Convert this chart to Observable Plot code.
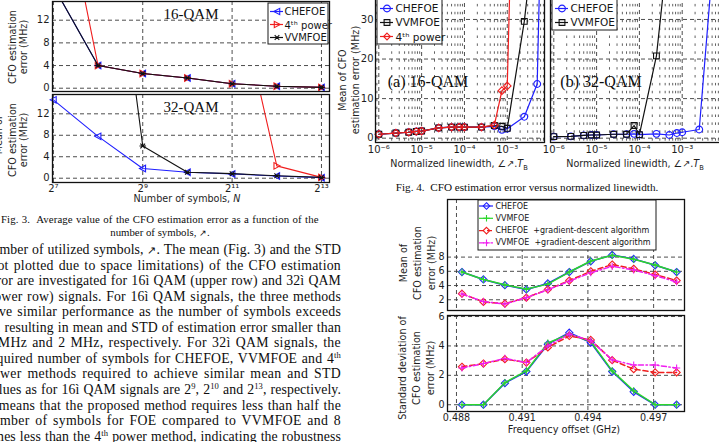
<!DOCTYPE html>
<html>
<head>
<meta charset="utf-8">
<script src="https://cdn.jsdelivr.net/npm/d3@7"></script>
<script src="https://cdn.jsdelivr.net/npm/@observablehq/plot@0.6"></script>
<style>
  html, body { margin: 0; padding: 0; background: #fff; }
  #page { position: relative; width: 719px; height: 442px; overflow: hidden; background: #fff; }
  #page > * { position: absolute; }
  .serif { font-family: "Liberation Serif", "Times New Roman", serif; color: #0e0e0e; white-space: nowrap; width: max-content; }
  .sans { font-family: "DejaVu Sans", "Liberation Sans", sans-serif; color: #1e1e1e; white-space: nowrap; font-size: 9.6px; width: max-content; }
  .ctr { transform: translate(-50%, -50%); }
  .rot { transform: translate(-50%, -50%) rotate(-90deg); text-align: center; line-height: 13px; }
  sup { font-size: 0.62em; vertical-align: 0; position: relative; top: -0.55em; line-height: 0; }
  sub { font-size: 0.7em; vertical-align: 0; position: relative; top: 0.4em; line-height: 0; }
</style>
</head>
<body>
<div id="page"></div>
<script>
// ---------------- Fig. 3: mean CFO error vs number of symbols (x = log2 N) ----------------
const log2N = [7, 8, 9, 10, 11, 12, 13];
const fig3Ticks = [7, 9, 11, 13];
const fig3YTicks = [0, 4, 8, 12];
const qam16Chefoe = [18, 4.0, 2.6, 1.8, 0.8, 0.35, 0.15];
const qam16Fourth = [43, 4.0, 2.6, 1.8, 0.8, 0.35, 0.15];
const qam16Vvmfoe = [18, 4.0, 2.6, 1.8, 0.8, 0.35, 0.15];
const qam32Chefoe = [14.6, 7.8, 1.8, 1.1, 0.8, 0.4, 0.1];
const qam32Fourth = [null, null, null, null, 39, 2.3, 0.15];
const qam32Vvmfoe = [null, 70, 6.0, 1.1, 0.85, 0.45, 0.15];

// ---------------- Fig. 4: CFO error vs normalized linewidth ----------------
const linewidth = [1e-6, 2.5e-6, 5e-6, 7.5e-6, 1e-5, 2.5e-5, 5e-5, 7.5e-5, 1e-4, 2.5e-4, 5e-4, 7.5e-4, 1e-3, 2.5e-3, 5e-3, 7.5e-3];
const lwTicks = [1e-6, 1e-5, 1e-4, 1e-3];
const lwYTicks = [0, 10, 20, 30];
const lw16Chefoe = [1.0, 1.3, 1.5, 1.7, 1.8, 2.6, 2.8, 2.8, 2.8, 2.8, 3.0, 2.1, 2.4, 5.4, 13.7, 95];
const lw16Vvmfoe = [1.0, 1.3, 1.5, 1.7, 1.8, 2.6, 2.8, 2.8, 2.8, 2.8, 3.2, 3.0, 2.5, 29.5, 58, null];
const lw16Fourth = [1.0, 1.3, 1.5, 1.7, 1.8, 2.6, 2.8, 2.8, 2.8, 2.8, 3.3, 12.0, 13.2, 180, null, null];
const lw32Chefoe = [0.4, 0.45, 0.7, 0.8, 0.8, 1.0, 1.0, 1.1, 0.9, 1.1, 0.8, 1.3, 1.5, 2.2, 42, null];
const lw32Vvmfoe = [0.4, 0.45, 0.7, 0.8, 0.8, 1.0, 1.0, 3.2, 0.9, 20.8, 51, null, null, null, null, null];

// ---------------- Fig. 5: mean / STD of CFO error vs frequency offset ----------------
const freqOffset = [0.48825, 0.48923, 0.49021, 0.49119, 0.49217, 0.49315, 0.49413, 0.49511, 0.49609, 0.49707, 0.49805];
const freqTicks = [0.488, 0.491, 0.494, 0.497];
const meanTicks = [2, 4, 6, 8];
const stdTicks = [0, 2, 4, 6];
const meanChefoe = [5.9, 4.85, 4.05, 3.45, 4.3, 5.9, 7.4, 8.3, 7.75, 6.85, 5.9];
const meanVvmfoe = [5.9, 4.85, 4.1, 3.5, 4.2, 5.9, 7.45, 8.25, 7.7, 6.9, 5.9];
const meanChefoeGd = [2.85, 1.7, 1.45, 2.3, 3.45, 4.7, 6.0, 6.95, 6.35, 5.55, 4.7];
const meanVvmfoeGd = [2.8, 1.75, 1.4, 2.3, 3.4, 4.6, 5.8, 6.7, 6.2, 5.4, 4.5];
const stdChefoe = [0, 0, 1.47, 2.26, 4.12, 4.9, 4.23, 2.26, 0.88, 0, 0];
const stdVvmfoe = [0, 0, 1.5, 2.3, 4.2, 4.8, 4.3, 2.3, 0.95, 0, 0];
const stdChefoeGd = [2.58, 2.8, 3.1, 2.87, 3.9, 4.68, 4.41, 3.03, 2.42, 2.2, 2.2];
const stdVvmfoeGd = [2.5, 2.8, 3.15, 2.87, 4.0, 4.8, 4.35, 3.05, 2.7, 2.7, 2.5];

// ---------------- styling ----------------
const BLUE = "#1f1fff", RED = "#f01e1e", BLACK = "#111", GREEN = "#2bd62b", MAGENTA = "#f01ef0";
const GRID = "#3a3a3a";
const SANS = '"DejaVu Sans", "Liberation Sans", sans-serif';
const baseStyle = { background: "transparent", overflow: "visible", fontFamily: SANS, fontSize: "9.6px", color: "#1e1e1e" };

const page = document.getElementById("page");
const supMap = { "-": "⁻", "0": "⁰", "1": "¹", "2": "²", "3": "³", "4": "⁴", "5": "⁵", "6": "⁶", "7": "⁷", "8": "⁸", "9": "⁹" };
const sup = v => String(v).replace(/[-0-9]/g, c => supMap[c]);

// open marker shapes in the style of the original plotting tool
const rad = size => Math.sqrt(size / Math.PI);
const triLeft = { draw(c, s) { const r = rad(s); c.moveTo(-r, 0); c.lineTo(r * 0.85, -r); c.lineTo(r * 0.85, r); c.closePath(); } };
const triRight = { draw(c, s) { const r = rad(s); c.moveTo(r, 0); c.lineTo(-r * 0.85, -r); c.lineTo(-r * 0.85, r); c.closePath(); } };
const diamond = { draw(c, s) { const r = rad(s); c.moveTo(0, -r); c.lineTo(r, 0); c.lineTo(0, r); c.lineTo(-r, 0); c.closePath(); } };
const square = { draw(c, s) { const r = rad(s) * 0.85; c.rect(-r, -r, 2 * r, 2 * r); } };
const circle = { draw(c, s) { const r = rad(s); c.moveTo(r, 0); c.arc(0, 0, r, 0, 2 * Math.PI); } };
const plus = { draw(c, s) { const r = rad(s); c.moveTo(-r, 0); c.lineTo(r, 0); c.moveTo(0, -r); c.lineTo(0, r); } };
const star = { draw(c, s) { const r = rad(s), q = r * 0.72; c.moveTo(-r, 0); c.lineTo(r, 0); c.moveTo(-q, -q); c.lineTo(q, q); c.moveTo(-q, q); c.lineTo(q, -q); } };

const pairs = (xs, ys) => xs.map((x, i) => ({ x, y: ys[i] })).filter(d => d.y != null);

function put(html, cls, x, y, css = {}) {
  const el = document.createElement("div");
  el.className = cls;
  el.innerHTML = html;
  el.style.left = x + "px";
  el.style.top = y + "px";
  Object.assign(el.style, css);
  page.appendChild(el);
  return el;
}

// one axes box; box = frame edges in page pixels
function panel(box, x, y, marks) {
  const ml = 40, mr = 3, mt = 3, mb = 24;
  const svg = Plot.plot({
    width: box.r - box.l + ml + mr, height: box.b - box.t + mt + mb,
    marginLeft: ml, marginRight: mr, marginTop: mt, marginBottom: mb,
    x, y, style: baseStyle, marks: marks.filter(Boolean)
  });
  svg.style.left = (box.l - ml) + "px";
  svg.style.top = (box.t - mt) + "px";
  page.appendChild(svg);
}

function seriesMarks(list, ydom, { width = 1.1, r = 3.3 } = {}) {
  return list.flatMap(s => {
    const inside = s.data.filter(d => d.y >= ydom[0] && d.y <= ydom[1]);
    return [
      Plot.line(s.data, { x: "x", y: "y", stroke: s.color, strokeWidth: width, strokeDasharray: s.dash, clip: true }),
      Plot.dot(inside, { x: "x", y: "y", symbol: s.symbol, stroke: s.color, fill: "none", r: s.r || r, strokeWidth: 1.1 })
    ];
  });
}

// boxed legend drawn as its own small plot in pixel units
function legend(entries, o) {
  const marks = [Plot.frame({ fill: "white", stroke: "#1a1a1a", strokeWidth: 1, inset: 0.5 })];
  entries.forEach((e, i) => {
    const yy = o.row0 + i * o.rowH;
    marks.push(Plot.ruleY([yy], { x1: o.s1, x2: o.s2, stroke: e.color, strokeWidth: 1.2, strokeDasharray: e.dash }));
    marks.push(Plot.dot([[(o.s1 + o.s2) / 2, yy]], { symbol: e.symbol, stroke: e.color, fill: "none", r: o.r, strokeWidth: 1.1 }));
    marks.push(Plot.text([e.label], { x: o.tx, y: yy + (e.dy || 0), text: d => d, textAnchor: "start", fontSize: o.fontSize, fill: "#151515" }));
  });
  const svg = Plot.plot({
    width: o.w, height: o.h, margin: 0,
    x: { type: "identity", axis: null }, y: { type: "identity", axis: null },
    style: baseStyle, marks
  });
  svg.style.left = o.l + "px";
  svg.style.top = o.t + "px";
  page.appendChild(svg);
}

const dashedGrid = { stroke: GRID, strokeWidth: 0.9, strokeDasharray: "4,3" };

// ================= Fig. 3 =================
const f3x = { domain: [6.98, 13.18] };
const f3top = { l: 52, r: 329, t: 1, b: 91 }, f3topY = [-0.58, 15.3];
const f3bot = { l: 52, r: 329, t: 94, b: 182 }, f3botY = [-0.8, 15.6];

panel(f3top, { ...f3x, axis: null }, { domain: f3topY }, [
  Plot.ruleX(fig3Ticks, dashedGrid),
  Plot.ruleY(fig3YTicks, dashedGrid),
  ...seriesMarks([
    { data: pairs(log2N, qam16Chefoe), color: BLUE, symbol: triLeft },
    { data: pairs(log2N, qam16Fourth), color: RED, symbol: triRight },
    { data: pairs(log2N, qam16Vvmfoe), color: BLACK, symbol: star }
  ], f3topY),
  Plot.axisY(fig3YTicks, { tickSize: 0, tickPadding: 3, label: null, fontSize: 10 }),
  Plot.frame({ stroke: "#111", strokeWidth: 1.3 })
]);

panel(f3bot, f3x, { domain: f3botY }, [
  Plot.ruleX(fig3Ticks, dashedGrid),
  Plot.ruleY(fig3YTicks, dashedGrid),
  ...seriesMarks([
    { data: pairs(log2N, qam32Chefoe), color: BLUE, symbol: triLeft },
    { data: pairs(log2N, qam32Fourth), color: RED, symbol: triRight },
    { data: pairs(log2N, qam32Vvmfoe), color: BLACK, symbol: star }
  ], f3botY),
  Plot.axisY(fig3YTicks, { tickSize: 0, tickPadding: 3, label: null, fontSize: 10 }),
  Plot.axisX(fig3Ticks, { tickSize: 0, tickPadding: 2, label: null, fontSize: 10, tickFormat: d => "2" + sup(d) }),
  Plot.frame({ stroke: "#111", strokeWidth: 1.3 })
]);

legend([
  { label: "CHEFOE", color: BLUE, symbol: triLeft },
  { label: "4ᵗʰ power", color: RED, symbol: triRight, dy: 1 },
  { label: "VVMFOE", color: BLACK, symbol: star }
], { l: 267, t: 2, w: 61, h: 42, row0: 9, rowH: 13, s1: 3, s2: 16, tx: 17, r: 3.2, fontSize: 10 });

put("16-QAM", "serif ctr", 191, 14, { fontSize: "15px" });
put("32-QAM", "serif ctr", 191, 107, { fontSize: "15px" });
put("CFO estimation<br>error (MHz)", "sans rot", 17.5, 47, { fontSize: "9.6px", lineHeight: "11px" });
put("CFO estimation<br>error (MHz)", "sans rot", 17.5, 140, { fontSize: "9.6px", lineHeight: "11px" });
put("Mean of", "sans rot", -2, 135, { fontSize: "9.6px", lineHeight: "11px" });
put("Number of symbols, <i>N</i>", "sans ctr", 187, 198, { fontSize: "9.6px" });

// ================= Fig. 4 =================
const lwY = [-1.09, 35.8];
const lwA = { l: 375, r: 544, t: -4, b: 142 };
const lwB = { l: 550, r: 720, t: -4, b: 142 };
const decades = [1e-7, 1e-6, 1e-5, 1e-4, 1e-3];
const minor = decades.flatMap(d => [2, 3, 4, 5, 6, 7, 8, 9].map(k => k * d));

function lwPanel(box, xdom, list, showY) {
  panel(box, { type: "log", domain: xdom }, { domain: lwY, axis: showY ? undefined : null }, [
    Plot.ruleX(minor.filter(v => v > xdom[0] && v < xdom[1]), { stroke: GRID, strokeWidth: 0.8, strokeDasharray: "2.5,5.4" }),
    Plot.ruleX(lwTicks, dashedGrid),
    Plot.ruleY(lwYTicks, dashedGrid),
    ...seriesMarks(list, lwY, { width: 1.2, r: 3.4 }),
    showY ? Plot.axisY(lwYTicks, { tickSize: 0, tickPadding: 2, label: null, fontSize: 10 }) : null,
    Plot.axisX(lwTicks, { tickSize: 0, tickPadding: 3, label: null, fontSize: 10, tickFormat: d => "10" + sup(Math.round(Math.log10(d))) }),
    Plot.frame({ stroke: "#111", strokeWidth: 1.3 })
  ]);
}

lwPanel(lwA, [8.37e-7, 7.41e-3], [
  { data: pairs(linewidth, lw16Chefoe), color: BLUE, symbol: circle },
  { data: pairs(linewidth, lw16Vvmfoe), color: BLACK, symbol: square },
  { data: pairs(linewidth, lw16Fourth), color: RED, symbol: diamond, r: 3.8 }
], true);

lwPanel(lwB, [8.37e-7, 7.85e-3], [
  { data: pairs(linewidth, lw32Chefoe), color: BLUE, symbol: circle },
  { data: pairs(linewidth, lw32Vvmfoe), color: BLACK, symbol: square }
], false);

legend([
  { label: "CHEFOE", color: BLUE, symbol: circle },
  { label: "VVMFOE", color: BLACK, symbol: square },
  { label: "4ᵗʰ power", color: RED, symbol: diamond, dy: 1 }
], { l: 376, t: -2, w: 66, h: 46, row0: 10, rowH: 14, s1: 4, s2: 17, tx: 19, r: 3.4, fontSize: 10.5 });

legend([
  { label: "CHEFOE", color: BLUE, symbol: circle },
  { label: "VVMFOE", color: BLACK, symbol: square }
], { l: 551, t: -2, w: 66, h: 32, row0: 10, rowH: 14, s1: 4, s2: 17, tx: 19, r: 3.4, fontSize: 10.5 });

put("(a) 16-QAM", "serif ctr", 428, 82, { fontSize: "16px" });
put("(b) 32-QAM", "serif ctr", 601, 82, { fontSize: "16px" });
put("Normalized linewidth, ∠↗.<i>T</i><sub>B</sub>", "sans ctr", 459, 163, { fontSize: "9.6px" });
put("Normalized linewidth, ∠↗.<i>T</i><sub>B</sub>", "sans ctr", 635, 163, { fontSize: "9.6px" });
put("Mean of CFO<br>estimation error (MHz)", "sans rot", 349, 80, { fontSize: "9.6px", lineHeight: "13px" });

// ================= Fig. 5 =================
const fxDom = [0.48759, 0.49841];
const f5top = { l: 447, r: 684, t: 199, b: 310 }, meanY = [0.49, 16.1];
const f5bot = { l: 447, r: 684, t: 315, b: 411 }, stdY = [-0.46, 6.07];
const f5series = (c, v, cg, vg) => [
  { data: pairs(freqOffset, c), color: BLUE, symbol: diamond, r: 3.6 },
  { data: pairs(freqOffset, v), color: GREEN, symbol: plus, r: 3.6 },
  { data: pairs(freqOffset, cg), color: RED, symbol: diamond, r: 3.6, dash: "5,3" },
  { data: pairs(freqOffset, vg), color: MAGENTA, symbol: plus, r: 3.6, dash: "5,2.5,1.5,2.5" }
];

panel(f5top, { domain: fxDom, axis: null }, { domain: meanY }, [
  Plot.ruleX(freqTicks, dashedGrid),
  Plot.ruleY(meanTicks, dashedGrid),
  ...seriesMarks(f5series(meanChefoe, meanVvmfoe, meanChefoeGd, meanVvmfoeGd), meanY, { width: 1.5 }),
  Plot.axisY(meanTicks, { tickSize: 0, tickPadding: 3, label: null, fontSize: 9.6 }),
  Plot.frame({ stroke: "#111", strokeWidth: 1.3 })
]);

panel(f5bot, { domain: fxDom }, { domain: stdY }, [
  Plot.ruleX(freqTicks, dashedGrid),
  Plot.ruleY(stdTicks, dashedGrid),
  ...seriesMarks(f5series(stdChefoe, stdVvmfoe, stdChefoeGd, stdVvmfoeGd), stdY, { width: 1.5 }),
  Plot.axisY(stdTicks, { tickSize: 0, tickPadding: 3, label: null, fontSize: 9.6 }),
  Plot.axisX(freqTicks, { tickSize: 0, tickPadding: 3, label: null, fontSize: 9.6, tickFormat: d => d3.format(".3f")(d) }),
  Plot.frame({ stroke: "#111", strokeWidth: 1.3 })
]);

legend([
  { label: "CHEFOE", color: BLUE, symbol: diamond },
  { label: "VVMFOE", color: GREEN, symbol: plus },
  { label: "CHEFOE  +gradient-descent algorithm", color: RED, symbol: diamond, dash: "5,3" },
  { label: "VVMFOE  +gradient-descent algorithm", color: MAGENTA, symbol: plus, dash: "5,2.5,1.5,2.5" }
], { l: 477, t: 199, w: 179, h: 51, row0: 6.5, rowH: 12.3, s1: 2, s2: 16, tx: 18, r: 3.3, fontSize: 8 });

put("Mean of<br>CFO estimation<br>error (MHz)", "sans rot", 418, 263, { fontSize: "9.6px", lineHeight: "14px" });
put("Standard deviation of<br>CFO estimation<br>error (MHz)", "sans rot", 417, 368, { fontSize: "9.6px", lineHeight: "14px" });
put("Frequency offset (GHz)", "sans ctr", 564, 429, { fontSize: "9.8px" });

// ================= captions and body text =================
// spread a single line to an exact width: part through letter spacing, the rest between words
function fitLine(el, width, letterShare) {
  const text = el.textContent;
  const spaces = (text.match(/ /g) || []).length;
  const w0 = el.getBoundingClientRect().width;
  el.style.letterSpacing = ((width - w0) * letterShare / text.length) + "px";
  const w1 = el.getBoundingClientRect().width;
  if (spaces) el.style.wordSpacing = ((width - w1) / spaces) + "px";
}

const cap3a = put("Fig. 3.&nbsp; Average value of the CFO estimation error as a function of the", "serif", 1, 212, { fontSize: "10.8px", lineHeight: "14px" });
fitLine(cap3a, 317, 0.5);
put("number of symbols, <span style=\"font-size:0.8em\">↗</span>.", "serif ctr", 160, 232, { fontSize: "10.8px" });
put("Fig. 4.&nbsp; CFO estimation error versus normalized linewidth.", "serif ctr", 527, 187, { fontSize: "11.2px" });

const bodyLines = [
  "number of utilized symbols, <span style=\"font-size:0.8em\">↗</span>. The mean (Fig. 3) and the STD",
  "(not plotted due to space limitations) of the CFO estimation",
  "error are investigated for 16ì QAM (upper row) and 32ì QAM",
  "(lower row) signals. For 16ì QAM signals, the three methods",
  "have similar performance as the number of symbols exceeds",
  "2<sup>8</sup>, resulting in mean and STD of estimation error smaller than",
  "4 MHz and 2 MHz, respectively. For 32ì QAM signals, the",
  "required number of symbols for CHEFOE, VVMFOE and 4<sup>th</sup>",
  "power methods required to achieve similar mean and STD",
  "values as for 16ì QAM signals are 2<sup>9</sup>, 2<sup>10</sup> and 2<sup>13</sup>, respectively.",
  "It means that the proposed method requires less than half the",
  "number of symbols for FOE compared to VVMFOE and 8",
  "times less than the 4<sup>th</sup> power method, indicating the robustness"
];
bodyLines.forEach((html, i) => {
  const el = put(html, "serif", -14.5, 250 + i * 15.55 - 8, { fontSize: "13.8px", lineHeight: "16px" });
  fitLine(el, 355.5, 0.55);
});
</script>
</body>
</html>
